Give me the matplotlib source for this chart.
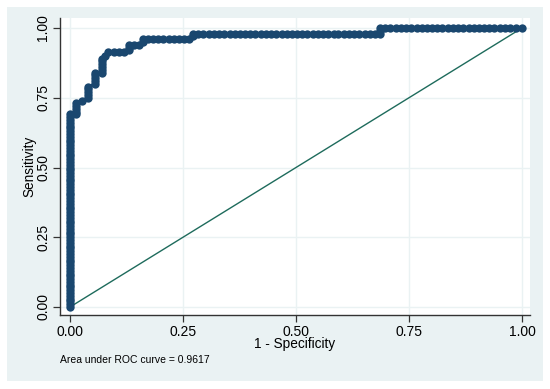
import matplotlib
matplotlib.use("Agg")
import matplotlib.pyplot as plt
from matplotlib.patches import Rectangle
import numpy as np

plt.rcParams['font.family'] = ['Liberation Sans', 'DejaVu Sans']

# ROC curve points
# vertical run at 1 - specificity = 0
sens_at_zero = [0.00, 0.01, 0.02, 0.03, 0.04, 0.05, 0.06, 0.07, 0.08, 0.09,
                0.10, 0.11, 0.12, 0.13, 0.14, 0.15, 0.16, 0.17, 0.18, 0.19,
                0.20, 0.21, 0.22, 0.23, 0.24, 0.25, 0.26, 0.27, 0.28, 0.29,
                0.30, 0.31, 0.32, 0.33, 0.34, 0.35, 0.36, 0.37, 0.38, 0.39,
                0.40, 0.41, 0.42, 0.43, 0.44, 0.45, 0.46, 0.47, 0.48, 0.49,
                0.50, 0.51, 0.52, 0.53, 0.54, 0.55, 0.56, 0.57, 0.58, 0.59,
                0.60, 0.61, 0.62, 0.63, 0.64, 0.65, 0.66, 0.67, 0.68, 0.69]

# remaining staircase
fpr_upper = [0.0125, 0.0125, 0.0125, 0.0125, 0.0125,
             0.026,
             0.040, 0.040, 0.040, 0.040, 0.040,
             0.056, 0.056, 0.056, 0.056, 0.056,
             0.071, 0.071, 0.071, 0.071, 0.071, 0.071,
             0.078, 0.085,
             0.097, 0.108, 0.119,
             0.130, 0.130, 0.130,
             0.142, 0.153,
             0.162, 0.162,
             0.172, 0.183, 0.195, 0.206, 0.218, 0.229, 0.241, 0.252, 0.264,
             0.272, 0.272,
             0.284, 0.295, 0.307, 0.318, 0.330, 0.341, 0.353, 0.364, 0.376,
             0.387, 0.399, 0.410, 0.422, 0.433, 0.445, 0.456, 0.468, 0.479,
             0.491, 0.502, 0.514, 0.525, 0.537, 0.548, 0.560, 0.571, 0.583,
             0.594, 0.606, 0.617, 0.629, 0.640, 0.652, 0.663, 0.675, 0.686,
             0.686, 0.686,
             0.698, 0.709, 0.721, 0.732, 0.744, 0.755, 0.767, 0.778, 0.790,
             0.801, 0.813, 0.824, 0.836, 0.847, 0.859, 0.870, 0.882, 0.893,
             0.905, 0.916, 0.928, 0.939, 0.951, 0.962, 0.974, 0.986, 1.000]
tpr_upper = [0.69, 0.70, 0.71, 0.72, 0.73,
             0.74,
             0.75, 0.76, 0.77, 0.78, 0.79,
             0.80, 0.81, 0.82, 0.83, 0.84,
             0.84, 0.85, 0.86, 0.87, 0.88, 0.89,
             0.90, 0.915,
             0.915, 0.915, 0.915,
             0.92, 0.93, 0.94,
             0.94, 0.94,
             0.95, 0.96,
             0.96, 0.96, 0.96, 0.96, 0.96, 0.96, 0.96, 0.96, 0.96,
             0.97, 0.98,
             0.98, 0.98, 0.98, 0.98, 0.98, 0.98, 0.98, 0.98, 0.98,
             0.98, 0.98, 0.98, 0.98, 0.98, 0.98, 0.98, 0.98, 0.98,
             0.98, 0.98, 0.98, 0.98, 0.98, 0.98, 0.98, 0.98, 0.98,
             0.98, 0.98, 0.98, 0.98, 0.98, 0.98, 0.98, 0.98, 0.98,
             0.99, 1.00,
             1.00, 1.00, 1.00, 1.00, 1.00, 1.00, 1.00, 1.00, 1.00,
             1.00, 1.00, 1.00, 1.00, 1.00, 1.00, 1.00, 1.00, 1.00,
             1.00, 1.00, 1.00, 1.00, 1.00, 1.00, 1.00, 1.00, 1.00]

ticks = [0.00, 0.25, 0.50, 0.75, 1.00]
tick_labels = ["0.00", "0.25", "0.50", "0.75", "1.00"]
auc_text = "Area under ROC curve = 0.9617"

fpr = np.concatenate([np.zeros(len(sens_at_zero)), fpr_upper])
tpr = np.concatenate([sens_at_zero, tpr_upper])

W, H = 550, 389
fig = plt.figure(figsize=(W / 100, H / 100), dpi=100, facecolor="white")
bg = "#EAF2F3"
fig.patches.append(Rectangle((7 / W, 1 - 381 / H), (543 - 7) / W, (381 - 7) / H,
                             transform=fig.transFigure, facecolor=bg,
                             edgecolor="none", zorder=-10))

ax = fig.add_axes([60 / W, 1 - 315 / H, (530 - 60) / W, (315 - 18) / H])
ax.set_zorder(1)
ax.set_facecolor("white")

# axis limits so that 0 -> px 70, 1 -> px 522 ; y 0 -> 307, 1 -> 28
xs = 452.0
ax.set_xlim(-10 / xs, 1 + 8 / xs)
ys = 279.0
ax.set_ylim(-8 / ys, 1 + 10 / ys)

for t in ticks:
    ax.axhline(t, color=bg, lw=1.0, zorder=0)
    ax.axvline(t, color=bg, lw=1.0, zorder=0)

ax.plot([0, 1], [0, 1], color="#1E6B5C", lw=1.0, zorder=2)
ax.plot(fpr, tpr, color="#1A476F", lw=2.0, marker="o", markersize=6.0,
        markeredgewidth=0, zorder=3, clip_on=False)

for s in ["top", "right"]:
    ax.spines[s].set_visible(False)
for s in ["left", "bottom"]:
    ax.spines[s].set_color("#333333")
    ax.spines[s].set_linewidth(1.0)

ax.set_xticks(ticks)
ax.set_xticklabels(tick_labels, fontsize=10)
ax.set_yticks(ticks)
ax.set_yticklabels(tick_labels, fontsize=10, rotation=90, va="center")
ax.tick_params(direction="out", length=5, width=0.9, color="#333333",
               labelcolor="black", pad=2)

ax.set_xlabel("1 - Specificity", fontsize=9.8, labelpad=-1)
ax.set_ylabel("Sensitivity", fontsize=9.8, labelpad=0)

fig.text(60 / W, 1 - 360 / H, auc_text, fontsize=7.5, ha="left", va="center")

fig.savefig("out.png", dpi=100, facecolor="white")
